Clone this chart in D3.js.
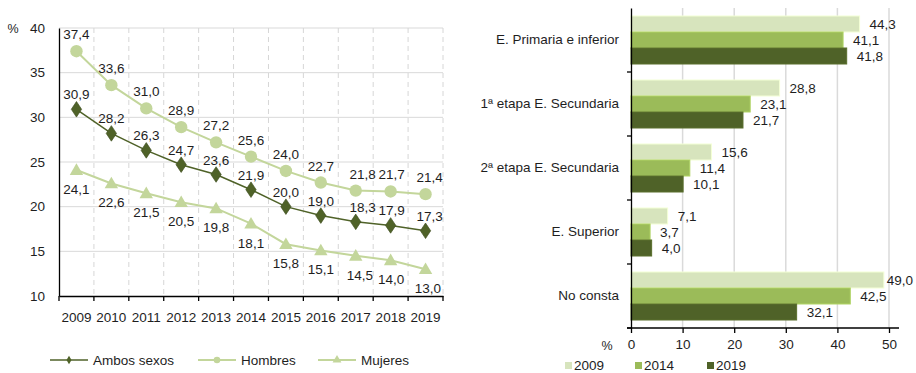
<!DOCTYPE html>
<html>
<head>
<meta charset="utf-8">
<script src="https://cdn.jsdelivr.net/npm/d3@7/dist/d3.min.js"></script>
<style>
  html, body { margin: 0; padding: 0; background: #fff; }
  svg { display: block; font-family: "Liberation Sans", Arial, sans-serif; }
  text { fill: #1e1e1e; }
</style>
</head>
<body>
<svg id="chart" width="916" height="373"></svg>
<script>
// ---- Data: line chart (left) ----
const years = ["2009","2010","2011","2012","2013","2014","2015","2016","2017","2018","2019"];
const ambos   = [30.9, 28.2, 26.3, 24.7, 23.6, 21.9, 20.0, 19.0, 18.3, 17.9, 17.3];
const hombres = [37.4, 33.6, 31.0, 28.9, 27.2, 25.6, 24.0, 22.7, 21.8, 21.7, 21.4];
const mujeres = [24.1, 22.6, 21.5, 20.5, 19.8, 18.1, 15.8, 15.1, 14.5, 14.0, 13.0];
const lineSeriesNames = ["Ambos sexos", "Hombres", "Mujeres"];
const yTicksLeft = [10, 15, 20, 25, 30, 35, 40];

// ---- Data: bar chart (right) ----
const levels = ["E. Primaria e inferior", "1ª etapa E. Secundaria", "2ª etapa E. Secundaria", "E. Superior", "No consta"];
const barYears = ["2009", "2014", "2019"];
const v2009 = [44.3, 28.8, 15.6, 7.1, 49.0];
const v2014 = [41.1, 23.1, 11.4, 3.7, 42.5];
const v2019 = [41.8, 21.7, 10.1, 4.0, 32.1];
const xTicksRight = [0, 10, 20, 30, 40, 50];

const fmt = v => d3.format(".1f")(v).replace(".", ",");
const svg = d3.select("#chart");
const FS = "13.5px";

const darkGreen = "#4f6228";
const midGreen = "#9bbb59";
const lightGreen = "#c3d69b";
const paleGreen = "#d7e4bd";
const grid = "#d9d9d9";

// ================= Left: line chart =================
const x = d3.scaleBand().domain(years).range([59, 443]).padding(0);
const y = d3.scaleLinear().domain([10, 40]).range([296, 28]);
const cx = d => x(d) + x.bandwidth() / 2;

const gL = svg.append("g");

// horizontal gridlines
gL.append("g").selectAll("line").data(yTicksLeft.filter(t => t > 10)).join("line")
  .attr("x1", 59).attr("x2", 443)
  .attr("y1", d => y(d)).attr("y2", d => y(d))
  .attr("stroke", grid).attr("stroke-width", 1);

// vertical dashed gridlines at category boundaries
const bounds = years.slice(1).map(d => x(d)).concat([x(years[years.length - 1]) + x.bandwidth()]);
gL.append("g").selectAll("line").data(bounds).join("line")
  .attr("x1", d => d).attr("x2", d => d)
  .attr("y1", y(40)).attr("y2", y(10))
  .attr("stroke", "#d6d6d6").attr("stroke-width", 1).attr("stroke-dasharray", "5,4");

// y axis
const yAxis = d3.axisLeft(y).tickValues(yTicksLeft).tickSize(0).tickPadding(14).tickFormat(d3.format("d"));
gL.append("g").attr("transform", "translate(59,0)").call(yAxis)
  .call(g => g.select(".domain").attr("stroke", "#000").attr("stroke-width", 1.3))
  .call(g => g.selectAll("text").attr("font-size", FS).attr("fill", "#1e1e1e").attr("font-family", "Liberation Sans, Arial, sans-serif"));

gL.append("text").attr("x", 13).attr("y", 33).attr("text-anchor", "middle")
  .attr("font-size", "12.5px").text("%");

// x axis
const xAxis = d3.axisBottom(x).tickSize(0).tickPadding(16);
const gx = gL.append("g").attr("transform", `translate(0,${y(10)})`).call(xAxis);
gx.select(".domain").attr("stroke", "#000").attr("stroke-width", 1.3);
gx.selectAll("text").attr("font-size", FS).attr("fill", "#1e1e1e").attr("font-family", "Liberation Sans, Arial, sans-serif");
gx.selectAll("line.bt").data([x(years[0])].concat(bounds)).join("line")
  .attr("class", "bt")
  .attr("x1", d => d).attr("x2", d => d).attr("y1", 0).attr("y2", 5)
  .attr("stroke", "#000").attr("stroke-width", 1.3);

const line = d3.line().x((d, i) => cx(years[i])).y(d => y(d));

// Mujeres
gL.append("path").datum(mujeres).attr("d", line)
  .attr("fill", "none").attr("stroke", lightGreen).attr("stroke-width", 2);
gL.append("g").selectAll("path").data(mujeres).join("path")
  .attr("d", d3.symbol(d3.symbolTriangle, 78)())
  .attr("transform", (d, i) => `translate(${cx(years[i])},${y(d) + 1})`)
  .attr("fill", lightGreen);

// Hombres
gL.append("path").datum(hombres).attr("d", line)
  .attr("fill", "none").attr("stroke", lightGreen).attr("stroke-width", 2);
gL.append("g").selectAll("circle").data(hombres).join("circle")
  .attr("cx", (d, i) => cx(years[i])).attr("cy", d => y(d)).attr("r", 6.2)
  .attr("fill", lightGreen);

// Ambos sexos
gL.append("path").datum(ambos).attr("d", line)
  .attr("fill", "none").attr("stroke", darkGreen).attr("stroke-width", 1.5);
gL.append("g").selectAll("path").data(ambos).join("path")
  .attr("d", d3.symbol(d3.symbolDiamond, 70)())
  .attr("transform", (d, i) => `translate(${cx(years[i])},${y(d)}) scale(1.15,1)`)
  .attr("fill", darkGreen).attr("stroke", "#3e4e1f").attr("stroke-width", 0.6);

// value labels
const labelShift = [0, 0, 0, 0, 0, 0, 0, 0, 7, 1, 4];
gL.append("g").selectAll("text").data(hombres).join("text")
  .attr("x", (d, i) => cx(years[i]) + labelShift[i]).attr("y", d => y(d) - 12)
  .attr("text-anchor", "middle").attr("font-size", FS).text(fmt);
gL.append("g").selectAll("text").data(ambos).join("text")
  .attr("x", (d, i) => cx(years[i]) + labelShift[i]).attr("y", d => y(d) - 10)
  .attr("text-anchor", "middle").attr("font-size", FS).text(fmt);
gL.append("g").selectAll("text").data(mujeres).join("text")
  .attr("x", (d, i) => cx(years[i]) + labelShift[i] * 0.6).attr("y", d => y(d) + 24)
  .attr("text-anchor", "middle").attr("font-size", FS).text(fmt);

// legend (left)
const legL = [
  { name: lineSeriesNames[0], x: 50, color: darkGreen, sym: "diamond" },
  { name: lineSeriesNames[1], x: 198, color: lightGreen, sym: "circle" },
  { name: lineSeriesNames[2], x: 318, color: lightGreen, sym: "triangle" }
];
const ly = 360;
legL.forEach(l => {
  const g = gL.append("g");
  g.append("line").attr("x1", l.x).attr("x2", l.x + 38).attr("y1", ly).attr("y2", ly)
    .attr("stroke", l.color).attr("stroke-width", l.sym === "diamond" ? 1.5 : 2);
  const s = l.sym === "diamond" ? d3.symbolDiamond : l.sym === "circle" ? d3.symbolCircle : d3.symbolTriangle;
  g.append("path").attr("d", d3.symbol(s, l.sym === "diamond" ? 22 : 34)())
    .attr("transform", `translate(${l.x + 19},${ly})`).attr("fill", l.color);
  g.append("text").attr("x", l.x + 43).attr("y", ly + 5).attr("font-size", FS).text(l.name);
});

// ================= Right: bar chart =================
const xr = d3.scaleLinear().domain([0, 50]).range([631, 889]);
const yr = d3.scaleBand().domain(levels).range([8, 328]).padding(0);
const ysub = d3.scaleBand().domain(barYears).range([8, yr.bandwidth() - 8]).padding(0);
const barVals = { "2009": v2009, "2014": v2014, "2019": v2019 };
const barColors = { "2009": paleGreen, "2014": midGreen, "2019": darkGreen };

const gR = svg.append("g");

// vertical gridlines
gR.append("g").selectAll("line").data(xTicksRight.filter(t => t > 0)).join("line")
  .attr("x1", d => xr(d)).attr("x2", d => xr(d))
  .attr("y1", 8).attr("y2", 328)
  .attr("stroke", "#dadada").attr("stroke-width", 1.5);

// bars with value labels; a label that would run past the right edge is pulled in
const rightLimit = 913;
barYears.forEach(yr0 => {
  gR.append("g").selectAll("rect").data(barVals[yr0]).join("rect")
    .attr("x", xr(0))
    .attr("y", (d, i) => yr(levels[i]) + ysub(yr0))
    .attr("width", d => xr(d) - xr(0))
    .attr("height", ysub.bandwidth())
    .attr("fill", barColors[yr0])
    .attr("stroke", d3.color(barColors[yr0]).brighter(0.35))
    .attr("stroke-width", 1);
  gR.append("g").selectAll("text").data(barVals[yr0]).join("text")
    .attr("x", d => xr(d) + 10)
    .attr("y", (d, i) => yr(levels[i]) + ysub(yr0) + ysub.bandwidth() / 2 + 5)
    .attr("font-size", FS).text(fmt)
    .each(function () {
      const w = this.getComputedTextLength();
      const x0 = +this.getAttribute("x");
      if (x0 + w > rightLimit) this.setAttribute("x", rightLimit - w);
    });
});

// y axis (categories)
const yAxisR = d3.axisLeft(yr).tickSize(0).tickPadding(12);
const gyr = gR.append("g").attr("transform", `translate(${xr(0)},0)`).call(yAxisR);
gyr.select(".domain").attr("stroke", "#000").attr("stroke-width", 1.3);
gyr.selectAll("text").attr("font-size", FS).attr("fill", "#1e1e1e").attr("font-family", "Liberation Sans, Arial, sans-serif");
gyr.selectAll("line.bt").data(levels.slice(1).map(d => yr(d)).concat([328])).join("line")
  .attr("class", "bt")
  .attr("x1", -4).attr("x2", 0).attr("y1", d => d).attr("y2", d => d)
  .attr("stroke", "#000").attr("stroke-width", 1.3);

// x axis
const xAxisR = d3.axisBottom(xr).tickValues(xTicksRight).tickSize(5).tickPadding(6).tickFormat(d3.format("d"));
const gxr = gR.append("g").attr("transform", "translate(0,328)").call(xAxisR);
gxr.select(".domain").attr("stroke", "#000").attr("stroke-width", 1.3).attr("d", `M${xr(0) - 4},0H${xr(50) + 10}`);
gxr.selectAll("line").attr("stroke", "#000").attr("stroke-width", 1.3);
gxr.selectAll("text").attr("font-size", FS).attr("fill", "#1e1e1e").attr("font-family", "Liberation Sans, Arial, sans-serif");

gR.append("text").attr("x", 607).attr("y", 350).attr("text-anchor", "middle")
  .attr("font-size", "12.5px").text("%");

// legend (right)
const legR = [565, 635, 707];
barYears.forEach((yv, i) => {
  gR.append("rect").attr("x", legR[i]).attr("y", 362).attr("width", 7).attr("height", 7)
    .attr("fill", barColors[yv]);
  gR.append("text").attr("x", legR[i] + 9).attr("y", 370).attr("font-size", FS).text(yv);
});
</script>
</body>
</html>
